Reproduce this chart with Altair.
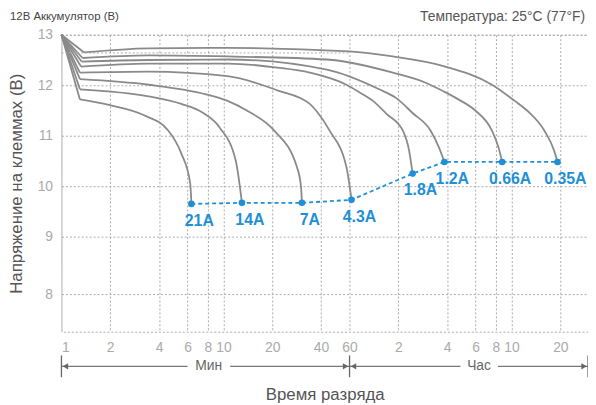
import altair as alt
import pandas as pd

# ---------------- data (time in minutes, voltage in volts) ----------------
currents = ["21A", "14A", "7A", "4.3A", "1.8A", "1.2A", "0.66A", "0.35A"]

t_21 = [1, 1.3, 1.96, 3.21, 4.57, 5.49, 6.23, 6.34]
v_21 = [13, 11.72, 11.61, 11.41, 11.10, 10.65, 10.06, 9.65]

t_14 = [1, 1.3, 3.45, 5.49, 7.5, 9.49, 11.9, 13.0]
v_14 = [13, 11.92, 11.78, 11.63, 11.45, 11.16, 10.51, 9.67]

t_7 = [1, 1.3, 3.45, 7.8, 10.6, 14.1, 20.6, 28.4, 30.1, 30.5]
v_7 = [13, 12.12, 12.01, 11.82, 11.69, 11.49, 11.10, 10.38, 9.99, 9.67]

t_43 = [1, 1.3, 3.45, 10.6, 21.5, 34.1, 37.7, 45.2, 57.4, 61.7]
v_43 = [13, 12.25, 12.27, 12.18, 11.90, 11.63, 11.48, 11.10, 10.38, 9.73]

t_18 = [1, 1.32, 3.45, 10.6, 21.5, 34.1, 57.4, 69, 83.6, 101, 128, 140, 147]
v_18 = [13, 12.37, 12.43, 12.43, 12.35, 12.25, 12.01, 11.86, 11.69, 11.44, 11.10, 10.7, 10.25]

t_12 = [1, 1.33, 3.45, 10.6, 43.4, 91.4, 116, 147, 190, 215, 231]
v_12 = [13, 12.47, 12.50, 12.51, 12.31, 11.92, 11.75, 11.45, 11.10, 10.75, 10.48]

t_066 = [1, 1.35, 3.45, 10.6, 43.4, 111, 177, 228, 282, 358, 454, 500, 525]
v_066 = [13, 12.54, 12.59, 12.57, 12.51, 12.25, 12.05, 11.88, 11.72, 11.50, 11.10, 10.75, 10.48]

t_035 = [1, 1.38, 3.45, 10.6, 60, 111, 228, 454, 628, 754, 957, 1100, 1153]
v_035 = [13, 12.65, 12.73, 12.74, 12.67, 12.57, 12.38, 12.01, 11.69, 11.49, 11.10, 10.7, 10.48]

x_ticks = [1, 2, 4, 6, 8, 10, 20, 40, 60, 120, 240, 360, 480, 600, 1200]
y_ticks = [8, 9, 10, 11, 12, 13]
x_domain = [1, 1778]

title_left = "12В Аккумулятор (В)"
title_right = "Температура: 25°C (77°F)"
y_title = "Напряжение на клеммах (В)"
x_title = "Время разряда"
unit_min = "Мин"
unit_hour = "Час"

# ---------------- tables ----------------
series = [
    ("21A", t_21, v_21), ("14A", t_14, v_14), ("7A", t_7, v_7), ("4.3A", t_43, v_43),
    ("1.8A", t_18, v_18), ("1.2A", t_12, v_12), ("0.66A", t_066, v_066), ("0.35A", t_035, v_035),
]
rows = []
for name, ts, vs in series:
    for i, (t, v) in enumerate(zip(ts, vs)):
        # first segment (start -> knee) is straight, rest is smooth
        if i <= 1:
            rows.append({"current": name, "t": t, "v": v, "i": i, "part": "knee"})
        if i >= 1:
            rows.append({"current": name, "t": t, "v": v, "i": i, "part": "body"})
df = pd.DataFrame(rows)
ends = pd.DataFrame([{"current": n, "t": ts[-1], "v": vs[-1], "k": j}
                     for j, (n, ts, vs) in enumerate(series)])

GRAY = "#8a8a8a"
BLUE = "#1f8fd6"
FONT = "Liberation Sans"

xs = alt.Scale(type="log", domain=x_domain, nice=False)
ys = alt.Scale(domain=[7.35, 8, 9, 13], range=[300, 262, 204, 0], nice=False, zero=False)

label_expr = "datum.value >= 120 ? toString(round(datum.value / 60)) : toString(datum.value)"

X_AXIS = alt.Axis(values=x_ticks, labelExpr=label_expr, title=x_title, grid=True,
                  domain=False, ticks=False, labelPadding=9, labelFlush=True, titlePadding=32)
Y_AXIS = alt.Axis(values=y_ticks, title=y_title, grid=True, domain=False, ticks=False,
                  labelPadding=9, titlePadding=12)

body = alt.Chart(df[df.part == "body"]).mark_line(
    interpolate="monotone", color=GRAY, strokeWidth=1.8
).encode(
    x=alt.X("t:Q", scale=xs, axis=X_AXIS),
    y=alt.Y("v:Q", scale=ys, axis=Y_AXIS),
    detail="current:N",
    order="i:Q",
)
knee = alt.Chart(df[df.part == "knee"]).mark_line(color=GRAY, strokeWidth=1.8).encode(
    x=alt.X("t:Q", scale=xs, axis=X_AXIS),
    y=alt.Y("v:Q", scale=ys, axis=Y_AXIS),
    detail="current:N",
    order="i:Q",
)

# short dotted reference segment seen in the top part of the minutes range
ref_seg = alt.Chart(pd.DataFrame({"t": [1], "t1": [60], "v": [12.64]})).mark_rule(
    color="#aaaaaa", strokeDash=[2, 2], strokeWidth=1
).encode(x=alt.X("t:Q", axis=X_AXIS), x2="t1:Q", y=alt.Y("v:Q", axis=Y_AXIS))

end_line = alt.Chart(ends).mark_line(color=BLUE, strokeDash=[4, 3], strokeWidth=1.8).encode(
    x=alt.X("t:Q", axis=X_AXIS), y=alt.Y("v:Q", axis=Y_AXIS), order="k:Q"
)
end_pts = alt.Chart(ends).mark_circle(color=BLUE, size=45, opacity=1).encode(
    x=alt.X("t:Q", axis=X_AXIS), y=alt.Y("v:Q", axis=Y_AXIS)
)
end_lbl = alt.Chart(ends).mark_text(
    color=BLUE, fontSize=16, fontWeight="bold", font=FONT, dx=8, dy=17
).encode(x=alt.X("t:Q", axis=X_AXIS), y=alt.Y("v:Q", axis=Y_AXIS), text="current:N")

# ---------------- Мин / Час dimension lines ----------------
seg_df = pd.DataFrame({
    "t": [1, 11, 60, 494],
    "b": [6.0, 60, 290, x_domain[1]],
})
segs = alt.Chart(seg_df).mark_rule(color="#777777", strokeWidth=1.2).encode(
    x=alt.X("t:Q", axis=X_AXIS), x2="b:Q", y=alt.value(335)
)
bars = alt.Chart(pd.DataFrame({"t": [1, 60, x_domain[1]]})).mark_rule(
    color="#666666", strokeWidth=1.3
).encode(x=alt.X("t:Q", axis=X_AXIS), y=alt.value(324), y2=alt.value(346))

arr_l = alt.Chart(pd.DataFrame({"t": [1, 60]})).mark_point(
    shape="triangle-left", filled=True, color="#666666", size=40, opacity=1, xOffset=4
).encode(x=alt.X("t:Q", axis=X_AXIS), y=alt.value(335))
arr_r = alt.Chart(pd.DataFrame({"t": [60, x_domain[1]]})).mark_point(
    shape="triangle-right", filled=True, color="#666666", size=40, opacity=1, xOffset=-4
).encode(x=alt.X("t:Q", axis=X_AXIS), y=alt.value(335))

unit_txt = alt.Chart(pd.DataFrame({"t": [8.1, 378], "s": [unit_min, unit_hour]})).mark_text(
    color="#666666", fontSize=14, font=FONT, baseline="middle"
).encode(x=alt.X("t:Q", axis=X_AXIS), y=alt.value(335), text="s:N")

# ---------------- header texts ----------------
t_left = alt.Chart(pd.DataFrame({"s": [title_left]})).mark_text(
    align="left", baseline="middle", fontSize=11.5, font=FONT, color="#444444"
).encode(text="s:N", x=alt.value(-52), y=alt.value(-18))
t_right = alt.Chart(pd.DataFrame({"s": [title_right]})).mark_text(
    align="right", baseline="middle", fontSize=14, font=FONT, color="#555555"
).encode(text="s:N", x=alt.value(529), y=alt.value(-18))

chart = alt.layer(
    knee, body, ref_seg, end_line, end_pts, end_lbl, segs, bars, arr_l, arr_r, unit_txt,
    t_left, t_right
).properties(
    width=532, height=300,
    background="white",
    autosize=alt.AutoSizeParams(type="none"),
    padding={"left": 54, "top": 25, "right": 0, "bottom": 72},
).configure_view(
    stroke="#aaaaaa", strokeDash=[2, 2], strokeWidth=1
).configure_axis(
    gridColor="#aaaaaa", gridDash=[2, 2], gridWidth=1,
    labelColor="#aaaaaa", labelFontSize=14, labelFont=FONT,
    titleColor="#555555", titleFontSize=17, titleFont=FONT, titleFontWeight="normal",
)

chart.save("out.html", embed_options={"renderer": "svg", "actions": False})
